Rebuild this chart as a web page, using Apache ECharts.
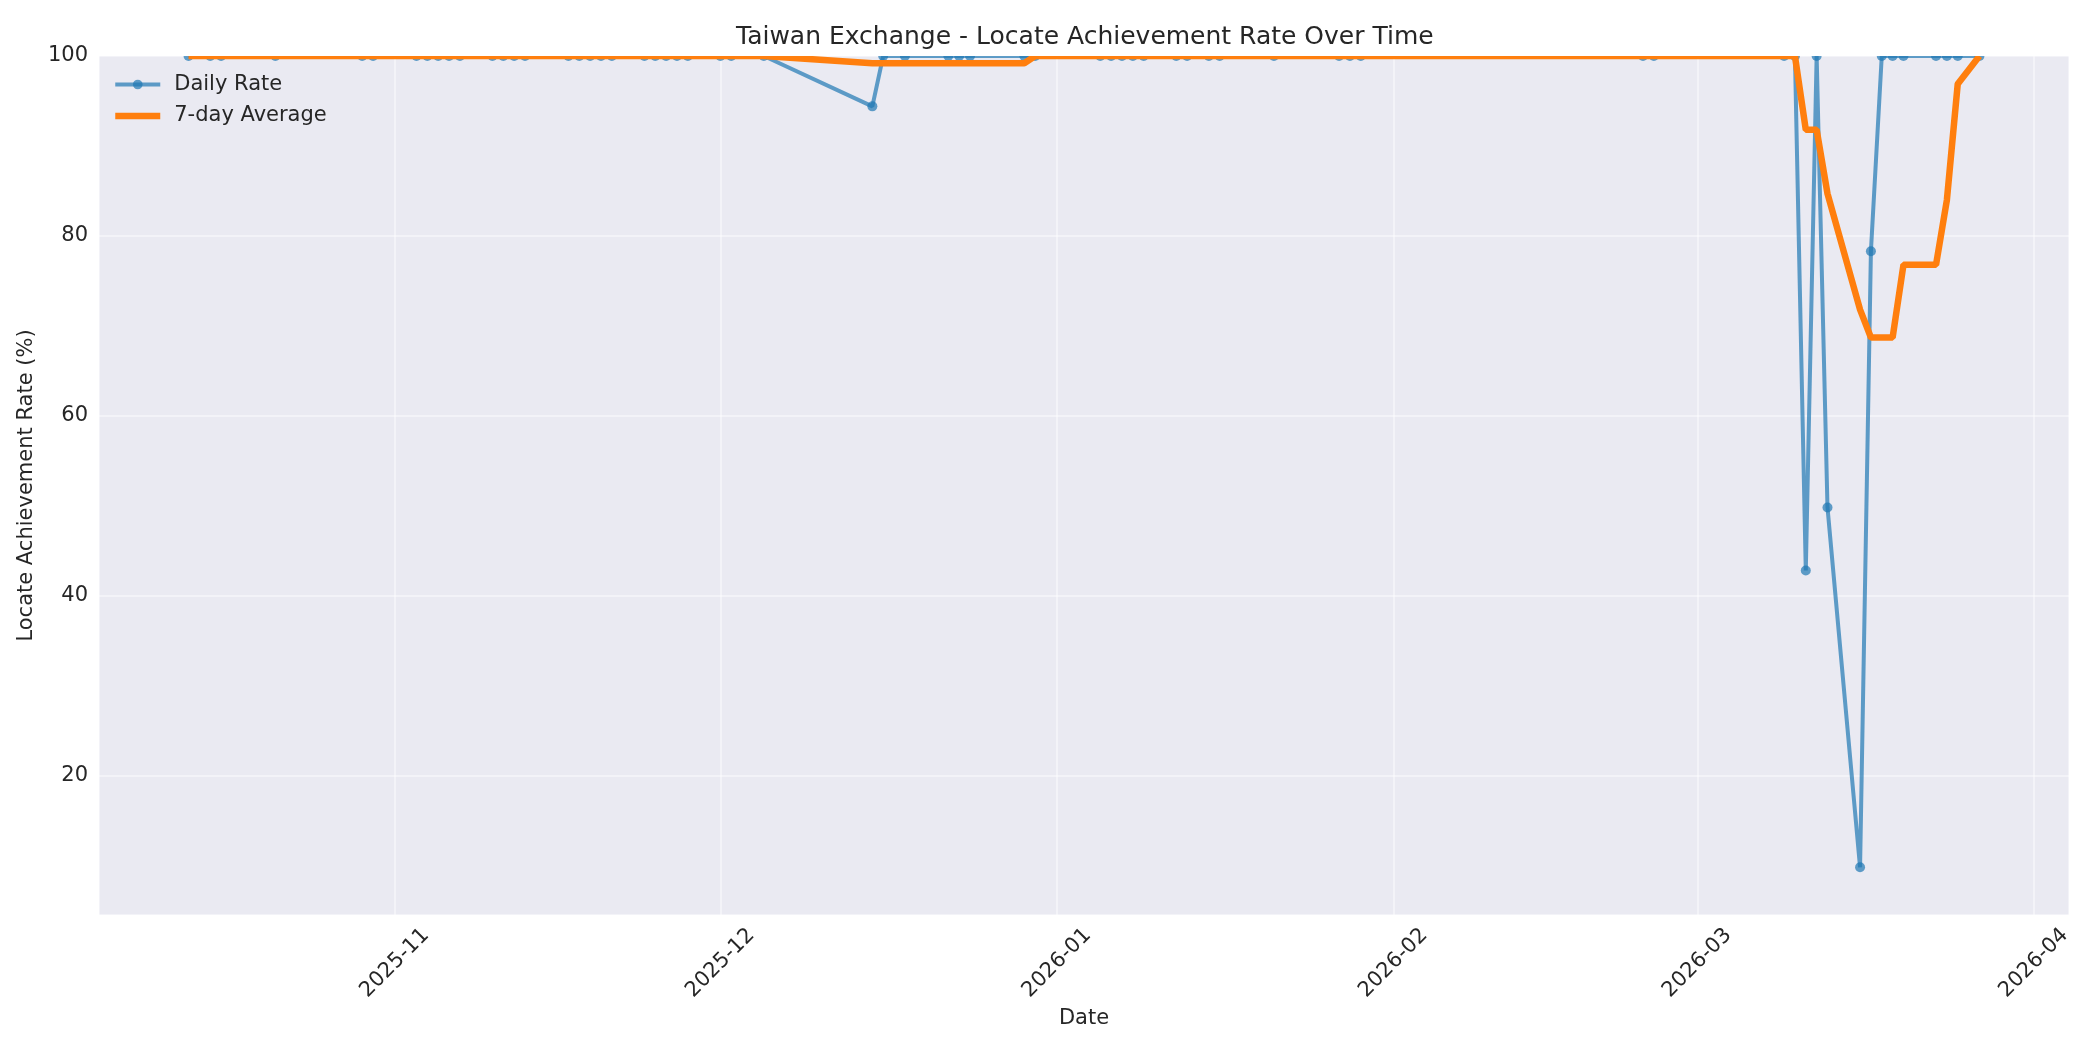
<!DOCTYPE html>
<html>
<head>
<meta charset="utf-8">
<script src="https://cdn.jsdelivr.net/npm/echarts@6/dist/echarts.min.js"></script>
<style>
  html, body { margin: 0; padding: 0; background: #ffffff; }
  #chart { width: 2100px; height: 1050px; }
</style>
</head>
<body>
<div id="chart"></div>
<script>
// ---- Data ----
const dates = [
  '2025-10-13','2025-10-15','2025-10-16','2025-10-21','2025-10-29','2025-10-30',
  '2025-11-03','2025-11-04','2025-11-05','2025-11-06','2025-11-07',
  '2025-11-10','2025-11-11','2025-11-12','2025-11-13',
  '2025-11-17','2025-11-18','2025-11-19','2025-11-20','2025-11-21',
  '2025-11-24','2025-11-25','2025-11-26','2025-11-27','2025-11-28',
  '2025-12-01','2025-12-02','2025-12-05',
  '2025-12-15','2025-12-16','2025-12-18',
  '2025-12-22','2025-12-23','2025-12-24',
  '2025-12-29','2025-12-30',
  '2026-01-05','2026-01-06','2026-01-07','2026-01-08','2026-01-09',
  '2026-01-12','2026-01-13','2026-01-15','2026-01-16',
  '2026-01-21','2026-01-27','2026-01-28','2026-01-29',
  '2026-02-24','2026-02-25',
  '2026-03-09','2026-03-10','2026-03-11','2026-03-12','2026-03-13',
  '2026-03-16','2026-03-17','2026-03-18','2026-03-19','2026-03-20',
  '2026-03-23','2026-03-24','2026-03-25','2026-03-27'
];

const dailyRate = [
  100, 100, 100, 100, 100, 100,
  100, 100, 100, 100, 100,
  100, 100, 100, 100,
  100, 100, 100, 100, 100,
  100, 100, 100, 100, 100,
  100, 100, 100,
  94.4, 100, 100,
  100, 100, 100,
  100, 100,
  100, 100, 100, 100, 100,
  100, 100, 100, 100,
  100, 100, 100, 100,
  100, 100,
  100, 100, 42.8, 100, 49.8,
  9.8, 78.3, 100, 100, 100,
  100, 100, 100, 100
];

const avgRate = [
  100, 100, 100, 100, 100, 100,
  100, 100, 100, 100, 100,
  100, 100, 100, 100,
  100, 100, 100, 100, 100,
  100, 100, 100, 100, 100,
  100, 100, 100,
  99.2, 99.2, 99.2,
  99.2, 99.2, 99.2,
  99.2, 100,
  100, 100, 100, 100, 100,
  100, 100, 100, 100,
  100, 100, 100, 100,
  100, 100,
  100, 100, 91.8, 91.8, 84.7,
  71.8, 68.7, 68.7, 68.7, 76.8,
  76.8, 84.0, 96.9, 100
];

const seriesNames = ['Daily Rate', '7-day Average'];
const titleText = 'Taiwan Exchange - Locate Achievement Rate Over Time';
const xAxisName = 'Date';
const yAxisName = 'Locate Achievement Rate (%)';

// ---- Chart ----
const FONT = 'DejaVu Sans';
const TEXT = '#262626';
const GRID = { left: 99, right: 31, top: 56, bottom: 135 };
const BLUE = '#1f77b4';
const ORANGE = '#ff7f0e';

const chart = echarts.init(document.getElementById('chart'), null, { renderer: 'canvas' });

const option = {
  backgroundColor: '#ffffff',
  animation: false,
  textStyle: { fontFamily: FONT },
  title: {
    text: titleText,
    left: 731,
    top: 20,
    textStyle: { fontFamily: FONT, fontSize: 25, fontWeight: 'normal', color: TEXT }
  },
  legend: {
    orient: 'vertical',
    left: 107,
    top: 69,
    itemWidth: 45,
    itemHeight: 12,
    itemGap: 10.5,
    textStyle: { fontFamily: FONT, fontSize: 21, color: TEXT, padding: [0, 0, 0, 9] },
    data: [
      {
        name: seriesNames[0],
        itemStyle: { color: BLUE, opacity: 0.7 },
        lineStyle: { color: BLUE, width: 4, opacity: 0.7 }
      },
      {
        name: seriesNames[1],
        itemStyle: { color: ORANGE, opacity: 0 },
        lineStyle: { color: ORANGE, width: 6.5, opacity: 1 }
      }
    ]
  },
  grid: {
    left: GRID.left, right: GRID.right, top: GRID.top, bottom: GRID.bottom,
    show: true, backgroundColor: '#EAEAF2', borderWidth: 0,
    containLabel: false
  },
  xAxis: {
    type: 'time',
    min: function (v) { return v.min - 0.05 * (v.max - v.min); },
    max: function (v) { return v.max + 0.05 * (v.max - v.min); },
    splitNumber: 6,
    name: xAxisName,
    nameLocation: 'middle',
    nameGap: 87,
    nameTextStyle: { fontFamily: FONT, fontSize: 21, color: TEXT },
    axisLine: { show: false },
    axisTick: { show: false },
    axisLabel: {
      rotate: 45,
      align: 'center',
      verticalAlign: 'middle',
      margin: 48,
      fontFamily: FONT,
      fontSize: 21,
      color: TEXT,
      hideOverlap: false,
      showMinLabel: true,
      showMaxLabel: true,
      formatter: function (val) {
        const d = new Date(val);
        if (d.getDate() === 1 && d.getHours() === 0 && d.getMinutes() === 0) {
          const m = d.getMonth() + 1;
          return d.getFullYear() + '-' + (m < 10 ? '0' + m : m);
        }
        return '';
      }
    },
    splitLine: { show: true, lineStyle: { color: 'rgba(255,255,255,0.45)', width: 2 } }
  },
  yAxis: {
    type: 'value',
    min: 4.5,
    max: 100,
    splitNumber: 5,
    name: yAxisName,
    nameLocation: 'middle',
    nameGap: 46,
    nameTextStyle: { fontFamily: FONT, fontSize: 21, color: TEXT },
    axisLine: { show: false },
    axisTick: { show: false },
    axisLabel: {
      margin: 11,
      fontFamily: FONT,
      fontSize: 21,
      color: TEXT,
      formatter: function (v) { return (Math.abs(v % 20) < 1e-9) ? String(v) : ''; }
    },
    splitLine: { show: true, lineStyle: { color: 'rgba(255,255,255,0.45)', width: 2 } }
  },
  graphic: [],
  series: [
    {
      name: seriesNames[0],
      type: 'line',
      data: dates.map((d, i) => [d, dailyRate[i]]),
      symbol: 'circle',
      symbolSize: 10,
      showAllSymbol: true,
      clip: true,
      lineStyle: { color: BLUE, width: 4, opacity: 0.7 },
      itemStyle: { color: BLUE, opacity: 0.7 },
      z: 2
    },
    {
      name: seriesNames[1],
      type: 'line',
      data: dates.map((d, i) => [d, avgRate[i]]),
      symbol: 'none',
      showSymbol: false,
      clip: true,
      lineStyle: { color: ORANGE, width: 6.5 },
      itemStyle: { color: ORANGE },
      z: 3
    }
  ]
};

chart.setOption(option);

// White mask just above the plot area so marks at the top limit are clipped like the reference
const topY = chart.convertToPixel({ yAxisIndex: 0 }, 100);
chart.setOption({
  graphic: [{
    type: 'rect',
    silent: true,
    z: 5,
    shape: { x: GRID.left, y: 0, width: 2100 - GRID.left - GRID.right, height: topY },
    style: { fill: '#ffffff' }
  }]
});
</script>
</body>
</html>
